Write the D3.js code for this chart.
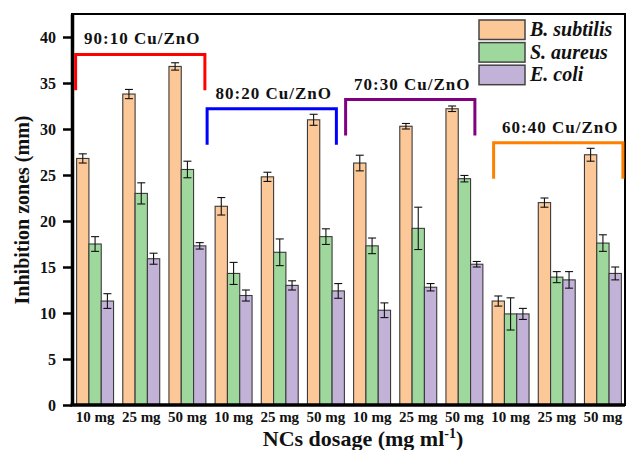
<!DOCTYPE html>
<html>
<head>
<meta charset="utf-8">
<script src="https://cdn.jsdelivr.net/npm/d3@7"></script>
<style>
  html, body { margin: 0; padding: 0; background: #fff; }
  svg { display: block; font-family: "Liberation Serif", "Times New Roman", serif; }
</style>
</head>
<body>
<svg id="chart" width="628" height="450"></svg>
<script>
// Dosage categories: three dosages for each of four Cu/ZnO ratios
const dosages = ["10 mg", "25 mg", "50 mg", "10 mg", "25 mg", "50 mg",
                 "10 mg", "25 mg", "50 mg", "10 mg", "25 mg", "50 mg"];
const ratios = ["90:10 Cu/ZnO", "80:20 Cu/ZnO", "70:30 Cu/ZnO", "60:40 Cu/ZnO"];
const seriesNames = ["B. subtilis", "S. aureus", "E. coli"];

// Inhibition zone diameters (mm) and their error values
const bSubtilis    = [26.8, 33.8, 36.8, 21.6, 24.8, 31.0, 26.3, 30.3, 32.2, 11.3, 22.0, 27.2];
const bSubtilisErr = [0.5, 0.5, 0.4, 0.95, 0.5, 0.6, 0.85, 0.3, 0.3, 0.55, 0.5, 0.7];
const sAureus      = [17.5, 23.0, 25.6, 14.3, 16.6, 18.3, 17.3, 19.2, 24.6, 9.9, 13.9, 17.6];
const sAureusErr   = [0.8, 1.15, 0.9, 1.2, 1.45, 0.85, 0.85, 2.3, 0.35, 1.75, 0.6, 0.9];
const eColi        = [11.3, 15.9, 17.3, 11.9, 13.0, 12.4, 10.3, 12.8, 15.3, 9.9, 13.6, 14.3];
const eColiErr     = [0.8, 0.6, 0.35, 0.6, 0.5, 0.8, 0.8, 0.4, 0.3, 0.6, 0.9, 0.7];

const yTicks = [0, 5, 10, 15, 20, 25, 30, 35, 40];

// Bracket heights (mm units) above each ratio group
const bracketLevels = [38.1, 32.2, 33.2, 28.5];

// ---- styling ----
const barColors = ["#fdc898", "#9fd89c", "#c3b2d8"];
const bracketColors = ["#ff0000", "#0000ff", "#800080", "#ff8000"];
const bracketDrop = 3.9;               // vertical leg length, mm units
const bracketShift = [-1, -8, -8, 1.5]; // px nudges per bracket

const W = 628, H = 450;
const margin = { left: 72, right: 2, top: 14, bottom: 45 };
const svg = d3.select("#chart");

const x = d3.scaleBand()
  .domain(d3.range(dosages.length))
  .range([margin.left, W - margin.right])
  .paddingInner(0.2)
  .paddingOuter(0.1);

const xSub = d3.scaleBand()
  .domain(d3.range(seriesNames.length))
  .range([0, x.bandwidth()]);

const y = d3.scaleLinear()
  .domain([0, 42.5])
  .range([H - margin.bottom, margin.top]);

const values = [bSubtilis, sAureus, eColi];
const errors = [bSubtilisErr, sAureusErr, eColiErr];

// Bars
const groups = svg.append("g").selectAll("g")
  .data(dosages.map((d, i) => i))
  .join("g")
  .attr("transform", i => `translate(${x(i)},0)`);

groups.selectAll("rect")
  .data(i => values.map((s, k) => ({ k, v: s[i], e: errors[k][i] })))
  .join("rect")
  .attr("x", d => xSub(d.k))
  .attr("y", d => y(d.v))
  .attr("width", xSub.bandwidth())
  .attr("height", d => y(0) - y(d.v))
  .attr("fill", d => barColors[d.k])
  .attr("stroke", "#3a3a3a")
  .attr("stroke-width", 1.1);

// Error bars
const capHalf = 4;
const eb = groups.selectAll("g.err")
  .data(i => values.map((s, k) => ({ k, v: s[i], e: errors[k][i] })))
  .join("g")
  .attr("class", "err")
  .attr("stroke", "#111")
  .attr("stroke-width", 1.1);
eb.append("line")
  .attr("x1", d => xSub(d.k) + xSub.bandwidth() / 2)
  .attr("x2", d => xSub(d.k) + xSub.bandwidth() / 2)
  .attr("y1", d => y(d.v + d.e))
  .attr("y2", d => y(d.v - d.e));
eb.append("line")
  .attr("x1", d => xSub(d.k) + xSub.bandwidth() / 2 - capHalf)
  .attr("x2", d => xSub(d.k) + xSub.bandwidth() / 2 + capHalf)
  .attr("y1", d => y(d.v + d.e))
  .attr("y2", d => y(d.v + d.e));
eb.append("line")
  .attr("x1", d => xSub(d.k) + xSub.bandwidth() / 2 - capHalf)
  .attr("x2", d => xSub(d.k) + xSub.bandwidth() / 2 + capHalf)
  .attr("y1", d => y(d.v - d.e))
  .attr("y2", d => y(d.v - d.e));

// Frame (top and right borders)
svg.append("rect")
  .attr("x", margin.left)
  .attr("y", margin.top)
  .attr("width", W - margin.right - margin.left - 1)
  .attr("height", H - margin.bottom - margin.top)
  .attr("fill", "none")
  .attr("stroke", "#000")
  .attr("stroke-width", 2);

// Y axis
const yAxis = svg.append("g")
  .attr("transform", `translate(${margin.left},0)`)
  .call(d3.axisLeft(y).tickValues(yTicks).tickSize(9).tickPadding(7).tickSizeOuter(0));
yAxis.select(".domain").attr("stroke-width", 3.5);
yAxis.selectAll(".tick line").attr("stroke-width", 2.5);
yAxis.selectAll(".tick text")
  .attr("font-family", "Liberation Serif")
  .attr("font-weight", "bold")
  .attr("font-size", 16)
  .attr("fill", "#111");

// X axis
const xAxis = svg.append("g")
  .attr("transform", `translate(0,${H - margin.bottom})`)
  .call(d3.axisBottom(x).tickSize(0).tickPadding(6).tickFormat(i => dosages[i]));
xAxis.select(".domain")
  .attr("stroke-width", 3.5)
  .attr("d", `M${margin.left - 1.5},0H${W - margin.right - 1}`);
xAxis.selectAll(".tick text")
  .attr("font-family", "Liberation Serif")
  .attr("font-weight", "bold")
  .attr("font-size", 15)
  .attr("fill", "#111");

// Ratio brackets and their labels
ratios.forEach((label, g) => {
  const x0 = x(g * 3) + bracketShift[g];
  const x1 = x(g * 3 + 2) + x.bandwidth() + bracketShift[g];
  const yTop = y(bracketLevels[g]);
  const yBot = y(bracketLevels[g] - bracketDrop);
  svg.append("path")
    .attr("d", `M${x0},${yBot}V${yTop}H${x1}V${yBot}`)
    .attr("fill", "none")
    .attr("stroke", bracketColors[g])
    .attr("stroke-width", 3);
  svg.append("text")
    .attr("x", (x0 + x1) / 2 + 2)
    .attr("y", yTop - 10)
    .attr("text-anchor", "middle")
    .attr("font-weight", "bold")
    .attr("font-size", 17)
    .attr("letter-spacing", 1)
    .attr("fill", "#111")
    .text(label);
});

// Legend
const legend = svg.append("g").attr("transform", "translate(479,20)");
seriesNames.forEach((name, k) => {
  legend.append("rect")
    .attr("x", 0).attr("y", k * 22.6)
    .attr("width", 46).attr("height", 19.5)
    .attr("fill", barColors[k])
    .attr("stroke", "#444")
    .attr("stroke-width", 1.5);
  legend.append("text")
    .attr("x", 51).attr("y", k * 22.6 + 16)
    .attr("font-weight", "bold")
    .attr("font-style", "italic")
    .attr("font-size", 20)
    .attr("fill", "#111")
    .text(name);
});

// Axis titles
svg.append("text")
  .attr("transform", "translate(29,210) rotate(-90)")
  .attr("text-anchor", "middle")
  .attr("font-weight", "bold")
  .attr("font-size", 20)
  .attr("fill", "#111")
  .text("Inhibition zones (mm)");

const xt = svg.append("text")
  .attr("x", 363)
  .attr("y", 446)
  .attr("text-anchor", "middle")
  .attr("font-weight", "bold")
  .attr("font-size", 22)
  .attr("fill", "#111");
xt.append("tspan").text("NCs dosage (mg ml");
xt.append("tspan").attr("dy", -8).attr("font-size", 14).text("-1");
xt.append("tspan").attr("dy", 8).text(")");
</script>
</body>
</html>
